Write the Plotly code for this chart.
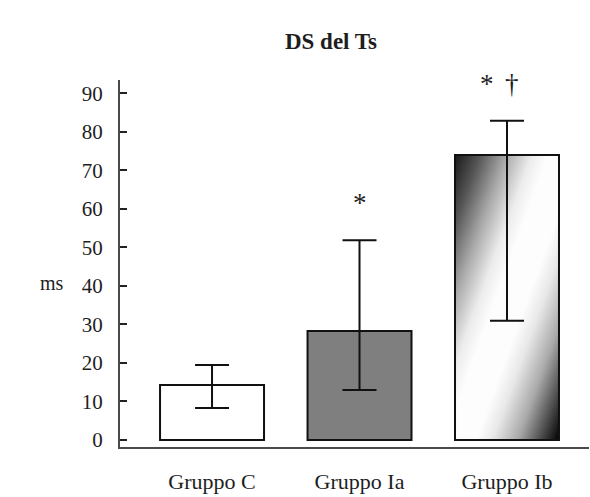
import base64
import plotly.graph_objects as go

# ---- data ----
categories = ["Gruppo C", "Gruppo Ia", "Gruppo Ib"]
means = [14.3, 28.3, 74.0]
err_plus = [5.2, 23.6, 8.9]
err_minus = [6.0, 15.3, 43.0]
sig_labels = [[], ["*"], ["*", "†"]]
tick_values = [0, 10, 20, 30, 40, 50, 60, 70, 80, 90]
title_text = "DS del Ts"
y_label = "ms"

# ---- style ----
FONT = "Liberation Serif, Times New Roman, serif"
TXT = "#1e1e1e"
AX = "#4a4a4a"
BAR_W = 0.705
Y_RANGE = [-1.82, 93.5]
x_pos = list(range(len(categories)))

fills = ["#ffffff", "#7f7f7f", "rgba(0,0,0,0)"]

fig = go.Figure()
fig.add_trace(go.Bar(
    x=x_pos, y=means, width=BAR_W,
    marker=dict(color=fills, line=dict(color="#111111", width=2)),
    error_y=dict(type="data", symmetric=False, array=err_plus, arrayminus=err_minus,
                 color="#111111", thickness=2, width=17),
    showlegend=False, hoverinfo="skip",
))

# diagonal gradient fill for the third bar (image below traces, bar fill transparent)
stops = [(0, "#1a1a1a"), (0.12, "#555555"), (0.25, "#aaaaaa"), (0.37, "#ececec"),
         (0.45, "#fdfdfd"), (0.6, "#fdfdfd"), (0.68, "#e8e8e8"), (0.8, "#aaaaaa"),
         (0.9, "#555555"), (1, "#000000")]
stop_xml = "".join('<stop offset="%s" stop-color="%s"/>' % s for s in stops)
svg = ('<svg xmlns="http://www.w3.org/2000/svg" width="100" height="100" viewBox="0 0 100 100" '
       'preserveAspectRatio="none"><defs><linearGradient id="g" x1="0" y1="0" x2="1" y2="1">'
       + stop_xml +
       '</linearGradient></defs><rect width="100" height="100" fill="url(#g)"/></svg>')
src = "data:image/svg+xml;base64," + base64.b64encode(svg.encode()).decode()
gi = 2
fig.add_layout_image(dict(
    source=src, xref="x", yref="y", x=x_pos[gi] - BAR_W / 2, y=means[gi],
    sizex=BAR_W, sizey=means[gi], sizing="stretch", xanchor="left", yanchor="top",
    layer="below",
))


def to_paper(v):
    return (v - Y_RANGE[0]) / (Y_RANGE[1] - Y_RANGE[0])


# significance marks above error bars
for i, labs in enumerate(sig_labels):
    n = len(labs)
    for j, lab in enumerate(labs):
        off = ((j - 0.5) * 0.17 - 0.05) if n > 1 else 0
        fig.add_annotation(x=x_pos[i] + off, y=to_paper(means[i] + err_plus[i] + 14), text=lab,
                           xref="x", yref="paper", showarrow=False, yanchor="top",
                           xanchor="center",
                           font=dict(family=FONT, size=27, color=TXT))

fig.add_annotation(x=-0.145, y=0.447, xref="paper", yref="paper", text=y_label,
                   showarrow=False, xanchor="center", yanchor="middle",
                   font=dict(family=FONT, size=20, color=TXT))

fig.update_layout(
    width=590, height=497,
    margin=dict(l=120, r=1, t=80, b=50, autoexpand=False),
    paper_bgcolor="white", plot_bgcolor="white",
    title=dict(text="<b>" + title_text + "</b>", x=0.561, y=0.918, xref="container",
               yref="container", xanchor="center", yanchor="middle",
               font=dict(family=FONT, size=23, color=TXT)),
    xaxis=dict(range=[-0.624, 2.556], tickvals=x_pos, ticktext=categories, automargin=False,
               showgrid=False, zeroline=False, showline=True, linecolor=AX, linewidth=2,
               ticks="", tickfont=dict(family=FONT, size=22, color=TXT),
               ticklabelstandoff=14),
    yaxis=dict(range=Y_RANGE, tickvals=tick_values, showgrid=False, zeroline=False,
               automargin=False,
               showline=True, linecolor=AX, linewidth=2, ticks="inside", ticklen=7,
               tickwidth=2, tickcolor="#222222",
               tickfont=dict(family=FONT, size=21, color=TXT), ticklabelstandoff=11),
)

fig.write_html("out.html", config={"displayModeBar": False},
               post_script="document.body.style.margin='0px';"
                           "document.body.style.overflow='hidden';")
